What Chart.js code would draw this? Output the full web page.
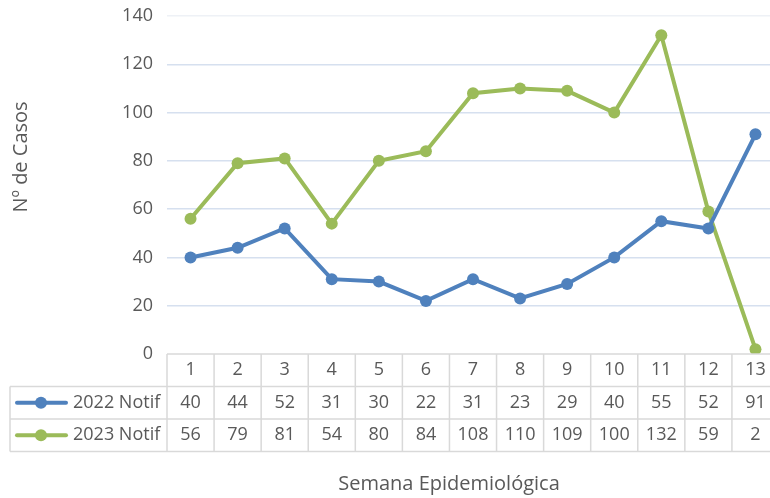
<!DOCTYPE html>
<html>
<head>
<meta charset="utf-8">
<script src="https://cdn.jsdelivr.net/npm/chart.js@4"></script>
<style>
  html, body { margin: 0; padding: 0; overflow: hidden; background: #fff; }
  #wrap { width: 790px; height: 498px; position: relative; }
</style>
</head>
<body>
<div id="wrap"><canvas id="casosChart"></canvas></div>
<script>
const semanas = ['1', '2', '3', '4', '5', '6', '7', '8', '9', '10', '11', '12', '13'];
const notif2022 = [40, 44, 52, 31, 30, 22, 31, 23, 29, 40, 55, 52, 91];
const notif2023 = [56, 79, 81, 54, 80, 84, 108, 110, 109, 100, 132, 59, 2];
const seriesNames = ['2022 Notif', '2023 Notif'];
const yTitle = 'Nº de Casos';
const xTitle = 'Semana Epidemiológica';

const blue = '#4f81bd';
const green = '#9bbb59';
const textColor = '#595959';
const border = '#d9d9d9';
const fontFam = '"Open Sans", sans-serif';

// data table under the plot + axis titles (Excel style)
const tablePlugin = {
  id: 'dataTable',
  afterDraw(chart) {
    const ctx = chart.ctx;
    const x = chart.scales.x;
    const area = chart.chartArea;
    const rowH = 32.5;
    const top = area.bottom;
    const colW = x.getPixelForValue(1) - x.getPixelForValue(0);
    const left = x.getPixelForValue(0) - colW / 2;
    const right = x.getPixelForValue(semanas.length - 1) + colW / 2;
    const legLeft = 10;

    ctx.save();
    ctx.strokeStyle = border;
    ctx.lineWidth = 1.5;
    ctx.beginPath();
    // horizontal lines
    ctx.moveTo(left, top); ctx.lineTo(right, top);
    for (let r = 1; r <= 3; r++) {
      ctx.moveTo(legLeft, top + r * rowH); ctx.lineTo(right, top + r * rowH);
    }
    // vertical lines
    ctx.moveTo(legLeft, top + rowH); ctx.lineTo(legLeft, top + 3 * rowH);
    for (let i = 0; i <= semanas.length; i++) {
      const px = left + i * colW;
      ctx.moveTo(px, top); ctx.lineTo(px, top + 3 * rowH);
    }
    ctx.stroke();

    ctx.fillStyle = textColor;
    ctx.font = '18px ' + fontFam;
    ctx.textAlign = 'center';
    ctx.textBaseline = 'middle';
    semanas.forEach((s, i) => {
      const px = x.getPixelForValue(i);
      ctx.fillText(s, px, top + rowH / 2);
      ctx.fillText(String(notif2022[i]), px, top + rowH * 1.5);
      ctx.fillText(String(notif2023[i]), px, top + rowH * 2.5);
    });

    // legend keys
    [blue, green].forEach((c, r) => {
      const cy = top + rowH * (1.5 + r);
      ctx.strokeStyle = c;
      ctx.lineWidth = 4;
      ctx.lineCap = 'round';
      ctx.beginPath();
      ctx.moveTo(17, cy); ctx.lineTo(66, cy);
      ctx.stroke();
      ctx.fillStyle = c;
      ctx.beginPath();
      ctx.arc(41, cy, 6, 0, Math.PI * 2);
      ctx.fill();
      ctx.fillStyle = textColor;
      ctx.textAlign = 'left';
      ctx.fillText(seriesNames[r], 73, cy);
    });

    // axis titles
    ctx.textAlign = 'center';
    ctx.font = '20px ' + fontFam;
    ctx.fillText(xTitle, 449, 484);
    ctx.translate(21, 157);
    ctx.rotate(-Math.PI / 2);
    ctx.fillText(yTitle, 0, 0);
    ctx.restore();
  }
};

const casosChart = document.getElementById('casosChart');

new Chart(casosChart, {
  type: 'line',
  data: {
    labels: semanas,
    datasets: [
      {
        label: seriesNames[0],
        data: notif2022,
        borderColor: blue,
        backgroundColor: blue,
        borderWidth: 4,
        pointRadius: 6,
        pointBorderWidth: 0,
        tension: 0,
      },
      {
        label: seriesNames[1],
        data: notif2023,
        borderColor: green,
        backgroundColor: green,
        borderWidth: 4,
        pointRadius: 6,
        pointBorderWidth: 0,
        tension: 0,
      },
    ],
  },
  options: {
    responsive: true,
    maintainAspectRatio: false,
    animation: false,
    layout: { padding: { top: 16, right: 11, bottom: 144, left: 0 } },
    plugins: { legend: { display: false }, tooltip: { enabled: false } },
    scales: {
      x: {
        offset: true,
        ticks: { display: false },
        grid: { display: false },
        border: { display: false },
        afterFit(scale) { scale.height = 0; },
      },
      y: {
        min: 0,
        max: 140,
        ticks: { stepSize: 20, color: textColor, padding: 14, font: { size: 18, family: fontFam } },
        grid: {
          drawTicks: false,
          lineWidth: 1.5,
          color: (c) => (c.tick.value === 140 ? '#eef1f6' : c.tick.value === 0 ? 'rgba(0,0,0,0)' : '#d6e0ef'),
        },
        border: { display: false },
        afterFit(scale) {
          scale.width = 167;
          scale.paddingTop = 0;
          scale.paddingBottom = 0;
        },
      },
    },
  },
  plugins: [tablePlugin],
});
</script>
</body>
</html>
